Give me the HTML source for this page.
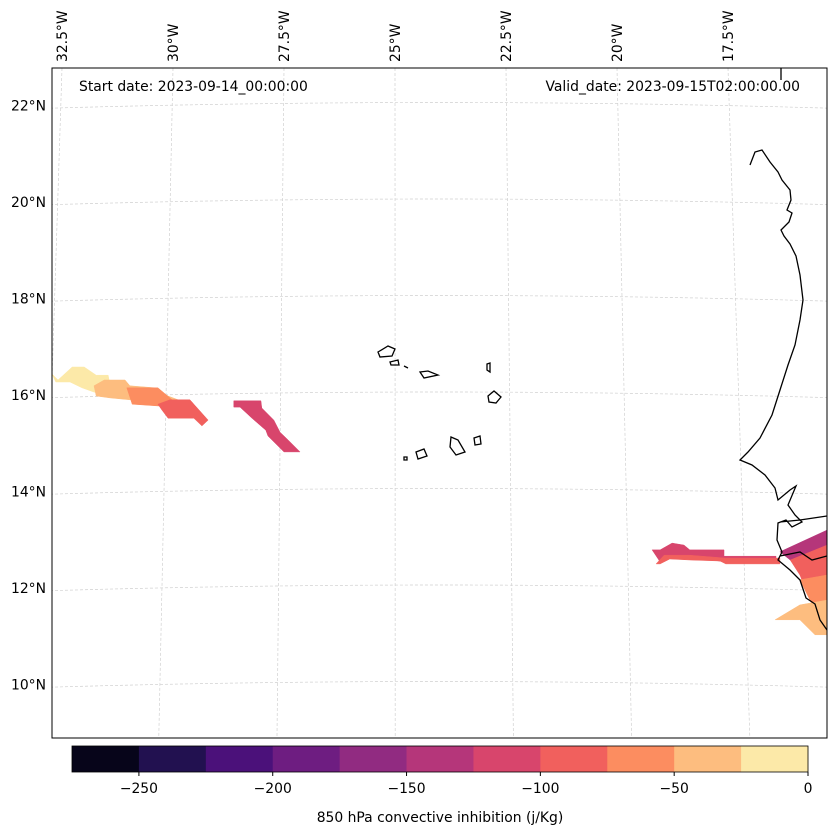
<!DOCTYPE html>
<html><head><meta charset="utf-8"><style>
html,body{margin:0;padding:0;background:#fff}
svg{display:block;font-family:"DejaVu Sans","Liberation Sans",sans-serif}
</style></head><body>
<svg id="chart" width="837" height="836" viewBox="0 0 837 836" xmlns="http://www.w3.org/2000/svg">
<defs><clipPath id="mapclip"><rect x="52" y="68" width="775" height="670"/></clipPath></defs>
<g id="grid" clip-path="url(#mapclip)"></g>
<g id="fills" clip-path="url(#mapclip)"></g>
<g id="coast" clip-path="url(#mapclip)" fill="none" stroke="#000" stroke-width="1.3">
<path d="M781,68 L781,80 M750,165 L755,152 L762,150 L770,162 L778,172 L782,180 L790,190 L791,200 L787,210 L792,213 L789,222 L781,230 L784,236 L790,244 L796,256 L800,275 L803,300 L800,320 L795,345 L788,365 L780,390 L772,415 L760,438 L748,452 L740,460 L752,465 L765,475 L775,488 L778,500 L790,490 L796,486 L788,505 L795,515 L802,522 L792,527 L786,520 L778,523 L777,540 L782,552 L778,560 L790,570 L800,580 L806,598 L815,604 L820,620 L827,630 M780,556 L800,552 L812,560 L827,556 M780,522 L800,520 L827,516"/>
<path d="M378,352 L388,346 L395,349 L392,356 L380,357Z M390,362 L398,360 L399,365 L391,365Z M404,366 L408,368 M420,372 L428,371 L438,375 L424,378Z M487,364 L490,363 L490,372 L487,370Z M488,396 L494,391 L501,397 L496,403 L489,402Z M451,437 L458,440 L465,452 L456,455 L450,447Z M474,438 L480,436 L481,444 L475,445Z M416,452 L424,449 L427,456 L418,459Z M404,457 L407,457 L407,460 L404,460Z"/>
</g>
<rect x="52" y="68" width="775" height="670" fill="none" stroke="#000" stroke-width="1"/>
<g id="latlabels" font-size="13.9" text-anchor="end"></g>
<g id="lonlabels" font-size="13.9"></g>
<text x="79" y="91" font-size="13.9">Start date: 2023-09-14_00:00:00</text>
<text x="800" y="91" font-size="13.9" text-anchor="end">Valid_date: 2023-09-15T02:00:00.00</text>
<g id="cbar"></g>
<text x="440" y="822" font-size="13.9" text-anchor="middle">850 hPa convective inhibition (j/Kg)</text>
</svg>
<script>
const levels=[-275,-250,-225,-200,-175,-150,-125,-100,-75,-50,-25,0];
const colors=["#07051a","#221150","#4b117a","#6e1d81","#912b81","#b5367a","#d8456c","#f1605d","#fc8d60","#fdbd7f","#fce9a8"];
const cbTicks=[-250,-200,-150,-100,-50,0];
const latTicks=[22,20,18,16,14,12,10];
const lonTicks=[-32.5,-30,-27.5,-25,-22.5,-20,-17.5];
const patchValues=[-12,-37,-62,-87,-112,-112,-137,-87,-87,-62,-37];
const patchLons=[
[-32.73,-32.59,-32.27,-32.00,-31.73,-31.46,-31.42,-31.55,-31.78,-32.05,-32.32,-32.64],
[-31.78,-31.55,-31.08,-30.97,-30.41,-30.11,-29.62,-29.71,-30.18,-30.52,-30.97,-31.42,-31.73],
[-31.04,-30.34,-30.02,-29.62,-29.39,-29.71,-30.29,-30.92],
[-30.34,-30.07,-29.62,-29.21,-29.35,-29.53,-30.11,-30.25],
[-28.63,-28.02,-28.00,-27.73,-27.59,-27.41,-27.14,-27.50,-27.86,-27.91,-28.22,-28.49,-28.63],
[-19.21,-19.03,-18.76,-18.49,-18.36,-17.59,-17.59,-16.42,-16.42,-17.55,-18.36,-18.76,-19.03],
[-16.33,-15.27,-15.27,-16.10],
[-16.10,-15.27,-15.27,-15.65,-15.88],
[-18.94,-18.36,-17.55,-16.33,-16.33,-17.55,-17.68,-18.36,-18.81,-19.03,-19.12],
[-15.88,-15.27,-15.27,-15.54],
[-16.44,-15.88,-15.27,-15.27,-15.54,-15.88]
];
const patchLats=[
[16.44,16.31,16.58,16.58,16.41,16.41,16.21,16.02,16.06,16.15,16.27,16.27],
[16.19,16.31,16.31,16.19,16.15,15.98,15.81,15.65,15.79,15.90,15.90,15.94,15.98],
[16.15,16.15,15.90,15.90,15.65,15.56,15.77,15.81],
[15.81,15.90,15.90,15.48,15.36,15.52,15.52,15.69],
[15.88,15.88,15.73,15.48,15.23,15.07,14.82,14.82,15.15,15.27,15.52,15.75,15.75],
[12.79,12.79,12.93,12.89,12.79,12.79,12.66,12.66,12.54,12.54,12.64,12.66,12.54],
[12.75,13.20,12.58,12.58],
[12.58,12.89,11.75,11.75,12.27],
[12.68,12.68,12.62,12.62,12.50,12.50,12.56,12.58,12.60,12.50,12.50],
[12.17,12.27,11.54,11.54],
[11.34,11.65,11.75,11.03,11.03,11.34]
];
const NS="http://www.w3.org/2000/svg";
function X(lon){return 395+(lon+25)*44.4;}
function Y(lat){return 395-(lat-16)*48.25;}
function colorFor(v){for(let i=0;i<colors.length;i++){if(v<levels[i+1])return colors[i];}return colors[colors.length-1];}
function mk(tag,attrs,parent){const e=document.createElementNS(NS,tag);for(const k in attrs)e.setAttribute(k,attrs[k]);parent.appendChild(e);return e;}
const grid=document.getElementById('grid');
latTicks.forEach(lat=>{
  const y=Y(lat);
  const p=mk('path',{d:`M40,${y+3} Q440,${y-9} 840,${y+3}`,fill:'none',stroke:'#d0d0d0','stroke-width':0.7,'stroke-dasharray':'3,2'},grid);
  
  
});
lonTicks.forEach(lon=>{
  const xt=X(lon);const xb=xt+(xt-392)*0.065;
  const l=mk('line',{x1:xt,y1:68,x2:xb,y2:738,stroke:'#d0d0d0','stroke-width':0.7,'stroke-dasharray':'3,2'},grid);
  
  
});
const fills=document.getElementById('fills');
patchValues.forEach((v,i)=>{
  const pts=patchLons[i].map((lon,j)=>X(lon).toFixed(1)+','+Y(patchLats[i][j]).toFixed(1)).join(' ');
  const p=mk('polygon',{points:pts,fill:colorFor(v),stroke:colorFor(v),'stroke-width':0.5},fills);
  
  
});
const latg=document.getElementById('latlabels');
latTicks.forEach(lat=>{
  const t=mk('text',{x:46,y:Y(lat)+5},latg);t.textContent=lat+'°N';
  
  
});
const long=document.getElementById('lonlabels');
lonTicks.forEach(lon=>{
  const x=X(lon)+5;
  const t=mk('text',{x:x,y:62,transform:`rotate(-90 ${x} 62)`},long);t.textContent=Math.abs(lon)+'°W';
  
  
});
const cb=document.getElementById('cbar');
const cx0=72,cx1=808,cy=746,ch=26;
function CX(v){return cx0+(v-levels[0])/(levels[levels.length-1]-levels[0])*(cx1-cx0);}
colors.forEach((c,i)=>{
  const r=mk('rect',{x:CX(levels[i]),y:cy,width:CX(levels[i+1])-CX(levels[i])+0.5,height:ch,fill:c},cb);
  
  
});
const fr=mk('rect',{x:cx0,y:cy,width:cx1-cx0,height:ch,fill:'none',stroke:'#000','stroke-width':0.8},cb);


cbTicks.forEach(v=>{
  const x=CX(v);
  const tl=mk('line',{x1:x,y1:cy+ch,x2:x,y2:cy+ch+4,stroke:'#000'},cb);
  
  
  const t=mk('text',{x:x,y:793,'font-size':13.9,'text-anchor':'middle'},cb);t.textContent=(v<0?'\u2212'+Math.abs(v):v);
  
  
});
</script>
</body></html>
